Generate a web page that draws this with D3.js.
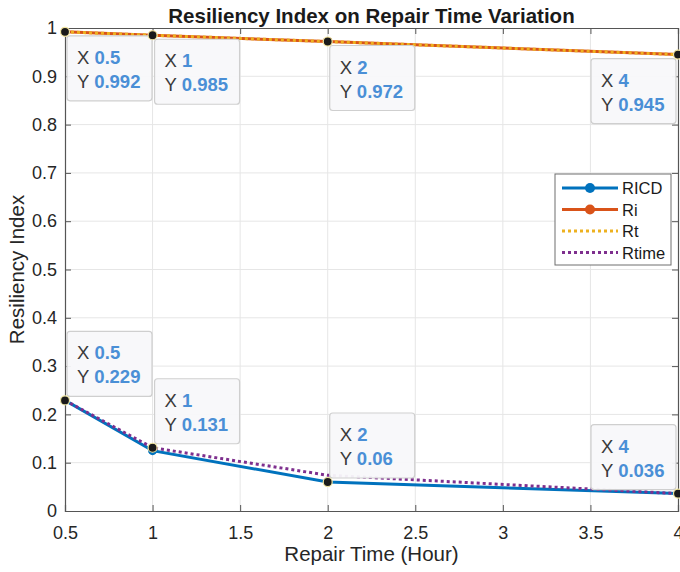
<!DOCTYPE html>
<html>
<head>
<meta charset="utf-8">
<script src="https://cdn.jsdelivr.net/npm/d3@7.9.0/dist/d3.min.js"></script>
<style>
  body { margin: 0; background: #fff; }
  svg { font-family: Arial, "Liberation Sans", sans-serif; }
</style>
</head>
<body>
<svg id="chart" width="680" height="572"></svg>
<script>
// Chart data
const repairTime = [0.5, 1, 2, 4];
const ricd = [0.229, 0.125, 0.06, 0.036];
const ri = [0.992, 0.985, 0.972, 0.945];
const rt = [0.992, 0.985, 0.972, 0.945];
const rtime = [0.229, 0.131, 0.074, 0.036];

const xTicks = [0.5, 1, 1.5, 2, 2.5, 3, 3.5, 4];
const yTicks = [0, 0.1, 0.2, 0.3, 0.4, 0.5, 0.6, 0.7, 0.8, 0.9, 1];

// Data tips: which series and which point, and which side the box sits on
const tipSeries = ['ri', 'ri', 'ri', 'ri', 'ricd', 'rtime', 'ricd', 'ricd'];
const tipIndex = [0, 1, 2, 3, 0, 1, 2, 3];
const tipSide = ['below-right', 'below-right', 'below-right', 'below-left',
                 'above-right', 'above-right', 'above-right', 'above-left'];

const seriesValues = { ricd, ri, rt, rtime };

const svg = d3.select('#chart');
const margin = { left: 65, right: 2, top: 28, bottom: 61 };
const width = 680, height = 572;

const x = d3.scaleLinear().domain([0.5, 4]).range([margin.left, width - margin.right]);
const y = d3.scaleLinear().domain([0, 1]).range([height - margin.bottom, margin.top]);

// Grid lines
svg.append('g').selectAll('line.vgrid')
  .data(xTicks.slice(1, -1))
  .join('line')
  .attr('x1', d => x(d)).attr('x2', d => x(d))
  .attr('y1', y(0)).attr('y2', y(1))
  .attr('stroke', '#e6e6e6').attr('stroke-width', 1);

svg.append('g').selectAll('line.hgrid')
  .data(yTicks.slice(1, -1))
  .join('line')
  .attr('x1', x(0.5)).attr('x2', x(4))
  .attr('y1', d => y(d)).attr('y2', d => y(d))
  .attr('stroke', '#e6e6e6').attr('stroke-width', 1);

// Axes (MATLAB style: inward ticks, box on)
const axisColor = '#555';
const xAxis = d3.axisBottom(x).tickValues(xTicks).tickSize(-6).tickPadding(15)
  .tickFormat(d3.format('~g'));
const yAxis = d3.axisLeft(y).tickValues(yTicks).tickSize(-6).tickPadding(8)
  .tickFormat(d3.format('~g'));

const gx = svg.append('g').attr('transform', `translate(0,${y(0)})`).call(xAxis);
const gy = svg.append('g').attr('transform', `translate(${x(0.5)},0)`).call(yAxis);
const gxTop = svg.append('g').attr('transform', `translate(0,${y(1)})`)
  .call(d3.axisTop(x).tickValues(xTicks).tickSize(-6).tickFormat(''));
const gyRight = svg.append('g').attr('transform', `translate(${x(4)},0)`)
  .call(d3.axisRight(y).tickValues(yTicks).tickSize(-6).tickFormat(''));

[gx, gy, gxTop, gyRight].forEach(g => {
  g.select('.domain').attr('stroke', axisColor).attr('stroke-width', 1.2);
  g.selectAll('.tick line').attr('stroke', axisColor);
  g.selectAll('.tick text').attr('fill', '#262626').style('font-size', '18px')
    .style('font-family', 'Arial, "Liberation Sans", sans-serif');
});

// Axis labels and title
svg.append('text')
  .attr('x', (x(0.5) + x(4)) / 2).attr('y', 561)
  .attr('text-anchor', 'middle').attr('fill', '#262626')
  .style('font-size', '20.5px')
  .text('Repair Time (Hour)');

svg.append('text')
  .attr('transform', `translate(24,${(y(0) + y(1)) / 2}) rotate(-90)`)
  .attr('text-anchor', 'middle').attr('fill', '#262626')
  .style('font-size', '20.5px')
  .text('Resiliency Index');

svg.append('text')
  .attr('x', (x(0.5) + x(4)) / 2).attr('y', 23)
  .attr('text-anchor', 'middle').attr('fill', '#1a1a1a')
  .style('font-size', '20.5px').style('font-weight', 'bold')
  .text('Resiliency Index on Repair Time Variation');

// Lines
const line = d3.line().x((d, i) => x(repairTime[i])).y(d => y(d));

const seriesStyle = [
  { key: 'ricd', name: 'RICD', color: '#0072BD', dash: null, marker: true },
  { key: 'ri', name: 'Ri', color: '#D95319', dash: null, marker: true },
  { key: 'rt', name: 'Rt', color: '#EDB120', dash: '3,3', marker: false },
  { key: 'rtime', name: 'Rtime', color: '#7E2F8E', dash: '3,3', marker: false }
];

const plot = svg.append('g');
seriesStyle.forEach(s => {
  plot.append('path')
    .datum(seriesValues[s.key])
    .attr('d', line)
    .attr('fill', 'none')
    .attr('stroke', s.color)
    .attr('stroke-width', 3)
    .attr('stroke-dasharray', s.dash);
  if (s.marker) {
    plot.selectAll(null)
      .data(seriesValues[s.key])
      .join('circle')
      .attr('cx', (d, i) => x(repairTime[i]))
      .attr('cy', d => y(d))
      .attr('r', 4.5)
      .attr('fill', s.color);
  }
});

// Data tips
const tipW = 85, tipH = 65;
const tips = svg.append('g');
tipSeries.forEach((key, k) => {
  const i = tipIndex[k];
  const xv = repairTime[i];
  const yv = seriesValues[key][i];
  const px = x(xv), py = y(yv);
  const side = tipSide[k];
  const bx = side.endsWith('right') ? px + 2 : px - tipW - 2;
  const by = side.startsWith('below') ? py + 4 : py - tipH - 4;

  tips.append('rect')
    .attr('x', bx).attr('y', by)
    .attr('width', tipW).attr('height', tipH)
    .attr('rx', 3)
    .attr('fill', '#f8f8fa')
    .attr('fill-opacity', 0.95)
    .attr('stroke', '#cfcfcf')
    .attr('stroke-width', 1.2);

  const lines = [['X', d3.format('~g')(xv)], ['Y', d3.format('~g')(yv)]];
  lines.forEach(([lab, val], j) => {
    const t = tips.append('text')
      .attr('x', bx + 10).attr('y', by + 28 + j * 24)
      .style('font-size', '18.5px');
    t.append('tspan').attr('fill', '#3a3a3a').text(lab + ' ');
    t.append('tspan').attr('fill', '#4a8fd6').style('font-weight', 'bold').text(val);
  });

  tips.append('circle')
    .attr('cx', px).attr('cy', py).attr('r', 4.5)
    .attr('fill', '#1a1a1a')
    .attr('stroke', '#f2e6a0').attr('stroke-width', 1.2);
});

// Legend
const legX = 555, legY = 174, legW = 116, legH = 91;
const legend = svg.append('g');
legend.append('rect')
  .attr('x', legX).attr('y', legY).attr('width', legW).attr('height', legH)
  .attr('fill', '#fff').attr('stroke', '#6e6e6e').attr('stroke-width', 1);

seriesStyle.forEach((s, i) => {
  const ly = legY + 14 + i * 21.5;
  legend.append('line')
    .attr('x1', legX + 7).attr('x2', legX + 63)
    .attr('y1', ly).attr('y2', ly)
    .attr('stroke', s.color).attr('stroke-width', 3)
    .attr('stroke-dasharray', s.dash);
  if (s.marker) {
    legend.append('circle')
      .attr('cx', legX + 35).attr('cy', ly).attr('r', 5)
      .attr('fill', s.color);
  }
  legend.append('text')
    .attr('x', legX + 67).attr('y', ly + 6)
    .attr('fill', '#1a1a1a')
    .style('font-size', '16.5px')
    .text(s.name);
});
</script>
</body>
</html>
